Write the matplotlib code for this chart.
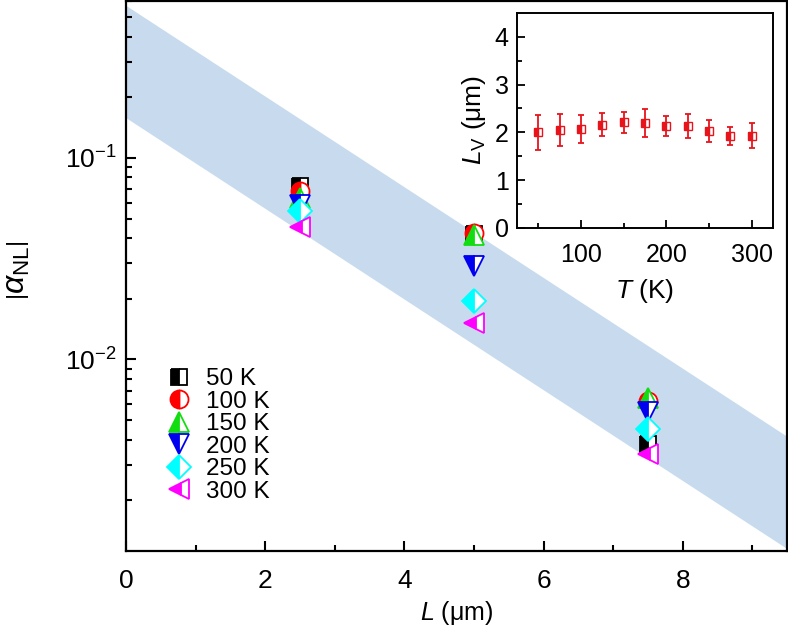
import numpy as np
import matplotlib
matplotlib.use("Agg")
import matplotlib.pyplot as plt

plt.rcParams['font.family'] = ['Liberation Sans', 'DejaVu Sans']
plt.rcParams['mathtext.fontset'] = 'custom'
plt.rcParams['mathtext.rm'] = 'Liberation Sans'
plt.rcParams['mathtext.it'] = 'Liberation Sans:italic'
plt.rcParams['mathtext.bf'] = 'Liberation Sans:bold'

# main panel data: |alpha_NL| vs channel length L (um)
lengths = [2.5, 5.0, 7.5]
temps = ['50 K', '100 K', '150 K', '200 K', '250 K', '300 K']
alpha_50 = [0.0726, 0.0420, 0.0038]
alpha_100 = [0.0686, 0.0423, 0.0062]
alpha_150 = [0.0633, 0.0415, 0.0064]
alpha_200 = [0.0583, 0.0290, 0.0055]
alpha_250 = [0.0545, 0.0195, 0.0045]
alpha_300 = [0.0454, 0.0151, 0.0034]
alphas = [alpha_50, alpha_100, alpha_150, alpha_200, alpha_250, alpha_300]
markers = ['s', 'o', '^', 'v', 'D', '<']
msizes = [12, 13, 14, 14, 12.5, 14]
colors = ['black', 'red', '#11dd11', '#0000ee', '#00ffff', '#ff00ff']

# shaded band: exp(-L/Lv) envelopes
band_top0 = 0.57
band_bot0 = 0.158
band_lv = 1.93

# inset data: L_V vs T
T_inset = [50, 75, 100, 125, 150, 175, 200, 225, 250, 275, 300]
Lv_inset = [2.00, 2.05, 2.07, 2.16, 2.21, 2.20, 2.14, 2.14, 2.02, 1.93, 1.93]
Lv_err = [0.37, 0.33, 0.30, 0.24, 0.22, 0.29, 0.21, 0.25, 0.23, 0.19, 0.26]

fig = plt.figure(figsize=(7.88, 6.42), dpi=100)
ax = fig.add_axes([0.160, 0.1417, 0.8388, 0.8567])

xx = np.linspace(0, 9.5, 300)
ax.fill_between(xx, band_bot0 * np.exp(-xx / band_lv), band_top0 * np.exp(-xx / band_lv),
                color='#c8dbee', lw=0, zorder=0)

for vals, m, ms, c, lab in zip(alphas, markers, msizes, colors, temps):
    ax.plot(lengths, vals, ls='none', marker=m, ms=ms, mec=c, mfc=c,
            fillstyle='left', markerfacecoloralt='white', mew=1.3, label=lab)

ax.set_yscale('log')
ax.set_xlim(0, 9.5)
ax.set_ylim(1.12e-3, 0.6)
ax.set_xticks([0, 2, 4, 6, 8])
ax.set_xticks([1, 3, 5, 7, 9], minor=True)
ax.tick_params(which='both', direction='in', labelsize=19, width=1.5)
ax.tick_params(which='major', length=7)
ax.tick_params(which='minor', length=4.5)
ax.tick_params(axis='x', pad=13)
ax.tick_params(axis='y', pad=7)
for s in ax.spines.values():
    s.set_linewidth(1.6)
ax.set_xlabel(r'$L$ ($\mathrm{\mu}$m)', fontsize=18, labelpad=4)
ax.set_ylabel(r'$\left|\alpha_{\mathrm{NL}}\right|$', fontsize=23)
ax.yaxis.set_label_coords(-0.142, 0.51)

ax.legend(loc='upper left', bbox_to_anchor=(0.043, 0.35), frameon=False,
          fontsize=17.5, handletextpad=0.5, labelspacing=0.02, borderaxespad=0,
          handlelength=1.2)

# inset
ins = fig.add_axes([0.656, 0.645, 0.325, 0.335])
ins.errorbar(T_inset, Lv_inset, yerr=Lv_err, ls='none', marker='s', ms=6,
             color='#e8141c', mec='#e8141c', mfc='#e8141c', fillstyle='left',
             markerfacecoloralt='white', capsize=2.5, elinewidth=1.3, capthick=1.3)
ins.set_xlim(25, 325)
ins.set_ylim(0, 4.5)
ins.set_xticks([100, 200, 300])
ins.set_xticks([50, 150, 250], minor=True)
ins.set_yticks([0, 1, 2, 3, 4])
ins.set_yticks([0.5, 1.5, 2.5, 3.5], minor=True)
ins.tick_params(which='both', direction='in', labelsize=18, width=1.3)
ins.tick_params(which='major', length=6)
ins.tick_params(which='minor', length=3.5)
ins.tick_params(axis='x', pad=11)
ins.tick_params(axis='y', pad=6)
for s in ins.spines.values():
    s.set_linewidth(1.4)
ins.set_xlabel(r'$T$ (K)', fontsize=19, labelpad=7)
ins.set_ylabel(r'$L_{\mathrm{V}}$ ($\mathrm{\mu}$m)', fontsize=19, labelpad=5)

fig.savefig('out.png', dpi=100)
